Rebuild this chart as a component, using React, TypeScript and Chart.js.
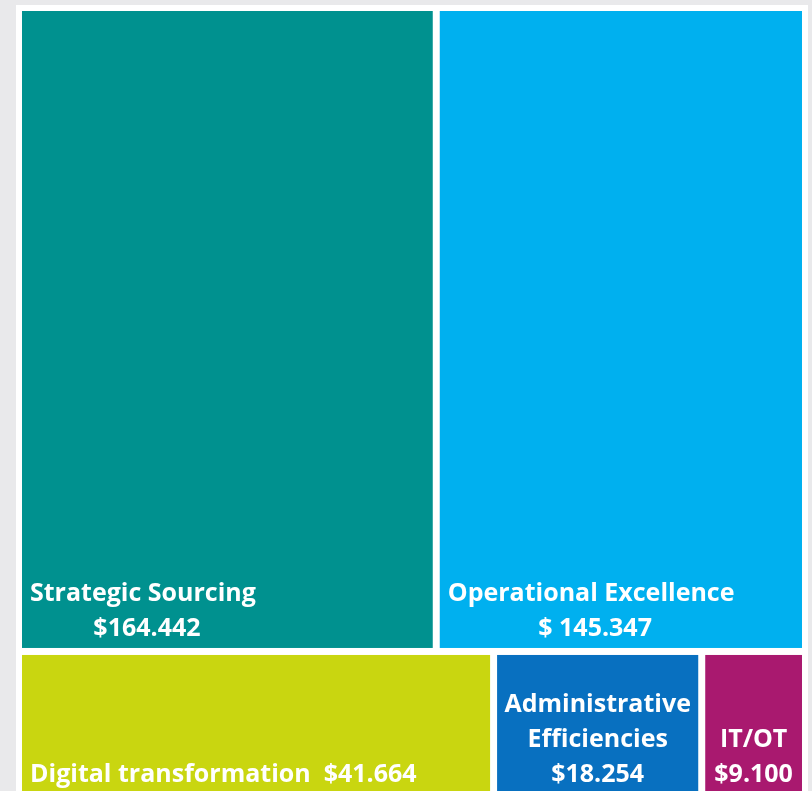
import React, { useEffect, useRef } from "react";
import { Chart, registerables } from "chart.js";

Chart.register(...registerables);

const LABELS = [
  "Strategic Sourcing",
  "Operational Excellence",
  "Digital transformation",
  "Administrative Efficiencies",
  "IT/OT",
];
const VALUES = [164.442, 145.347, 41.664, 18.254, 9.1];
const VALUE_TEXT = ["$164.442", "$ 145.347", "$41.664", "$18.254", "$9.100"];
const NAME_LINES = [
  ["Strategic Sourcing"],
  ["Operational Excellence"],
  ["Digital transformation"],
  ["Administrative", "Efficiencies"],
  ["IT/OT"],
];
const LABEL_MODE = ["block", "block", "inline", "center", "center"];
const ROWS = [
  [0, 1],
  [2, 3, 4],
];
const COLORS = ["#00918f", "#00b0ef", "#c9d610", "#0870c0", "#a9196f"];

type Rect = { x0: number; x1: number; y0: number; y1: number };

function layout(): Rect[] {
  const total = VALUES.reduce((a, b) => a + b, 0);
  const rects: Rect[] = [];
  let y = 0;
  ROWS.forEach((row) => {
    const rowSum = row.reduce((a, i) => a + VALUES[i], 0);
    const h = rowSum / total;
    let x = 0;
    row.forEach((i) => {
      const w = VALUES[i] / rowSum;
      rects[i] = { x0: x, x1: x + w, y0: y, y1: y + h };
      x += w;
    });
    y += h;
  });
  return rects;
}

const GAP = 3.5;
const FONT = "bold 25px 'Open Sans', sans-serif";
const LINE_H = 35;

const treemapPlugin = {
  id: "treemap",
  beforeDraw(chart: any) {
    const { ctx, width, height } = chart;
    ctx.save();
    ctx.fillStyle = "#e9e9eb";
    ctx.fillRect(0, 0, width, height);
    ctx.fillStyle = "#ffffff";
    ctx.fillRect(16, 5, width - 20, height - 5);
    ctx.restore();
  },
  afterDatasetsDraw(chart: any) {
    const { ctx, chartArea } = chart;
    const xs = chart.scales.x;
    const ys = chart.scales.y;
    const rects = layout();
    ctx.save();
    ctx.beginPath();
    ctx.rect(chartArea.left - GAP, chartArea.top - GAP, chartArea.width + 2 * GAP, chartArea.height + 2 * GAP);
    ctx.clip();
    rects.forEach((r, i) => {
      const l = xs.getPixelForValue(r.x0) + GAP;
      const rr = xs.getPixelForValue(r.x1) - GAP;
      const t = ys.getPixelForValue(r.y0) + GAP;
      const b = ys.getPixelForValue(r.y1) - GAP;
      ctx.fillStyle = COLORS[i];
      ctx.fillRect(l, t, rr - l, b - t);

      ctx.fillStyle = "#ffffff";
      ctx.font = FONT;
      ctx.textBaseline = "middle";
      const lastY = b - (r.y0 > 0 ? 17 : 19.5);
      const mode = LABEL_MODE[i];
      const names = NAME_LINES[i];
      if (mode === "block") {
        const nw = ctx.measureText(names[0]).width;
        ctx.textAlign = "left";
        ctx.fillText(names[0], l + 8, lastY - LINE_H);
        ctx.textAlign = "center";
        ctx.fillText(VALUE_TEXT[i], l + 8 + nw / 2 + 4, lastY);
      } else if (mode === "inline") {
        ctx.textAlign = "left";
        const nw = ctx.measureText(names[0] + "  ").width;
        ctx.fillText(names[0], l + 8, lastY);
        ctx.fillText(VALUE_TEXT[i], l + 8 + nw, lastY);
      } else {
        ctx.textAlign = "center";
        const cx = (l + rr) / 2;
        const lines = [...names, VALUE_TEXT[i]];
        lines.forEach((s, k) => {
          ctx.fillText(s, cx, lastY - (lines.length - 1 - k) * LINE_H);
        });
      }
    });
    ctx.restore();
  },
};

export default function App() {
  const ref = useRef<HTMLCanvasElement>(null);
  useEffect(() => {
    if (!ref.current) return;
    const rects = layout();
    const chart = new Chart(ref.current, {
      type: "scatter",
      data: {
        labels: LABELS,
        datasets: [
          {
            label: "Savings",
            data: rects.map((r) => ({ x: (r.x0 + r.x1) / 2, y: (r.y0 + r.y1) / 2 })),
            pointRadius: 0,
            pointHoverRadius: 0,
          },
        ],
      },
      options: {
        animation: false,
        responsive: false,
        devicePixelRatio: 1,
        layout: { padding: { left: 18.5, right: 6.5, top: 7.5, bottom: 0 } },
        plugins: { legend: { display: false }, tooltip: { enabled: false } },
        scales: {
          x: { type: "linear", min: 0, max: 1, display: false },
          y: { type: "linear", min: 0, max: 0.995, reverse: true, display: false },
        },
      },
      plugins: [treemapPlugin],
    });
    return () => chart.destroy();
  }, []);
  return (
    <div style={{ position: "fixed", left: 0, top: 0, width: 812, height: 791 }}>
      <canvas ref={ref} width={812} height={791} />
    </div>
  );
}
